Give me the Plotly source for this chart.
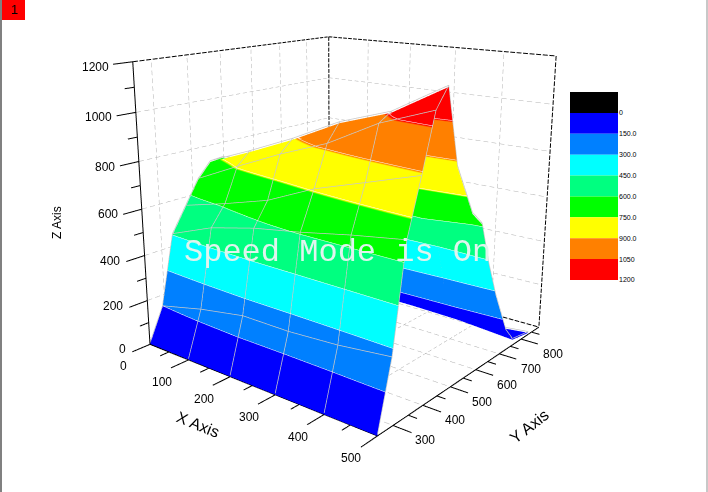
import plotly.graph_objects as go

# surface values
x_vals = [0, 100, 200, 300, 400, 500]
y_rows = [
    [251, 251, 251, 251, 251, 251],
    [293, 293, 293, 293, 293, 293],
    [333, 333, 333, 333, 333, 333],
    [376, 376, 376, 376, 376, 376],
    [417, 417, 417, 417, 417, 417],
    [457, 457, 457, 457, 457, 457],
    [497, 497, 497, 497, 497, 497],
    [560, 560, 560, 560, 560, 560],
    [600, 600, 600, 600, 600, 600],
    [635, 635, 635, 635, 635, 635],
    [670, 670, 670, 670, 670, 670],
    [725, 725, 725, 725, 725, 725],
    [730, 730, 730, 730, 730, 758],
    [735, 735, 735, 735, 735, 834],
]
z_rows = [
    [0, 0, 0, 0, 0, 0],
    [145, 192, 227, 227, 240, 265],
    [450, 524, 570, 602, 640, 672],
    [557, 608, 665, 753, 817, 882],
    [660, 751, 838, 914, 1021, 1096],
    [725, 804, 889, 986, 1054, 1172],
    [730, 750, 780, 810, 850, 874],
    [600, 610, 620, 640, 620, 670],
    [520, 530, 540, 560, 560, 610],
    [400, 420, 440, 460, 470, 430],
    [150, 170, 190, 220, 255, 281],
    [80, 85, 90, 90, 75, 87],
    [70, 75, 80, 80, 70, 25],
    [60, 65, 70, 70, 65, 7],
]

band_edges = [-150, 0, 150, 300, 450, 600, 750, 900, 1050]
band_colors = ["#000000", "#0000ff", "#0080ff", "#00ffff", "#00ff80", "#00ff00", "#ffff00", "#ff8000", "#ff0000"]
band_tick_vals = [0, 150, 300, 450, 600, 750, 900, 1050, 1200]
band_tick_text = ["0", "150.0", "300.0", "450.0", "600.0", "750.0", "900.0", "1050", "1200"]

x_major = [0, 100, 200, 300, 400, 500]
x_minor = [50, 150, 250, 350, 450]
y_major = [300, 400, 500, 600, 700, 800]
y_minor = [350, 450, 550, 650, 750, 850]
z_major = [0, 200, 400, 600, 800, 1000, 1200]
z_minor = [100, 300, 500, 700, 900, 1100]

X0, X1 = 0, 500
Y0, Y1 = 251, 887
Z0, Z1 = 0, 1200

# plotly's 3d view has a fixed 45 degree lens, so the page is taller than the window
# and slid up to get the flatter perspective of the original
PAGE_H = 771
PAGE_TOP = 183
VIEW_W = 679.5


def segments(pairs):
    xs, ys, zs = [], [], []
    for a, b in pairs:
        xs += [a[0], b[0], None]
        ys += [a[1], b[1], None]
        zs += [a[2], b[2], None]
    return xs, ys, zs


def line_trace(pairs, color, width=1):
    xs, ys, zs = segments(pairs)
    return go.Scatter3d(x=xs, y=ys, z=zs, mode="lines", hoverinfo="skip", showlegend=False,
                        line=dict(color=color, width=width))


# scatter3d stretches its dash pattern over the whole trace, so cut the dashes here
def dashed(a, b, n, on=0.6):
    out = []
    for i in range(n):
        t0, t1 = i / n, (i + on) / n
        out.append((tuple(a[k] + (b[k] - a[k]) * t0 for k in range(3)),
                    tuple(a[k] + (b[k] - a[k]) * t1 for k in range(3))))
    return out


band_scale = []
n_bands = 8
for i in range(n_bands):
    band_scale.append([i / n_bands, band_colors[i + 1]])
    band_scale.append([(i + 1) / n_bands, band_colors[i + 1]])

fig = go.Figure()
fig.add_trace(go.Surface(
    x=[x_vals] * len(y_rows), y=y_rows, z=z_rows, cmin=0, cmax=1200, colorscale=band_scale,
    showscale=False, hoverinfo="skip",
    lighting=dict(ambient=1, diffuse=0, specular=0, roughness=1, fresnel=0),
    contours=dict(z=dict(show=True, start=150, end=1200, size=150, color="white", width=1)),
))

# mesh lines on the surface
lift = 6
mesh = []
for r in range(1, len(y_rows)):
    for c in range(len(x_vals) - 1):
        mesh.append(((x_vals[c], y_rows[r][c], z_rows[r][c] + lift),
                     (x_vals[c + 1], y_rows[r][c + 1], z_rows[r][c + 1] + lift)))
for c in range(len(x_vals)):
    for r in range(len(y_rows) - 1):
        mesh.append(((x_vals[c], y_rows[r][c], z_rows[r][c] + lift),
                     (x_vals[c], y_rows[r + 1][c], z_rows[r + 1][c] + lift)))
fig.add_trace(line_trace(mesh, "#c8c8c8", 1.5))

# grey dashed grid on the back walls and floor
grid = []
for y in y_major:
    grid += dashed((X0, y, Z0), (X0, y, Z1), 38)
    grid += dashed((X0, y, Z0), (X1, y, Z0), 30)
for x in x_major[1:-1]:
    grid += dashed((x, Y1, Z0), (x, Y1, Z1), 38)
    grid += dashed((x, Y0, Z0), (x, Y1, Z0), 30)
for z in z_major[1:-1]:
    grid += dashed((X0, Y0, z), (X0, Y1, z), 28)
    grid += dashed((X0, Y1, z), (X1, Y1, z), 30)
fig.add_trace(line_trace(grid, "#b0b0b0"))

# black dashed outline at the back
back = []
back += dashed((X0, Y0, Z1), (X0, Y1, Z1), 36, 0.75)
back += dashed((X0, Y1, Z1), (X1, Y1, Z1), 40, 0.75)
back += dashed((X1, Y1, Z1), (X1, Y1, Z0), 46, 0.75)
back += dashed((X0, Y1, Z1), (X0, Y1, Z0), 46, 0.75)
back += dashed((X0, Y1, Z0), (X1, Y1, Z0), 40, 0.75)
fig.add_trace(line_trace(back, "black", 2))

# solid axes with ticks
axes = [((X0, Y0, Z0), (X1, Y0, Z0)), ((X1, Y0, Z0), (X1, Y1, Z0)), ((X0, Y0, Z0), (X0, Y0, Z1))]
for x in x_major:
    axes.append(((x, Y0, Z0), (x, Y0 - 50, Z0)))
for x in x_minor:
    axes.append(((x, Y0, Z0), (x, Y0 - 25, Z0)))
for y in y_major:
    axes.append(((X1, y, Z0), (X1 + 33, y, Z0)))
for y in y_minor:
    axes.append(((X1, y, Z0), (X1 + 16, y, Z0)))
for z in z_major:
    axes.append(((X0, Y0, z), (X0, Y0 - 50, z)))
for z in z_minor:
    axes.append(((X0, Y0, z), (X0, Y0 - 25, z)))
fig.add_trace(line_trace(axes, "black", 2))

# legend colour strip
fig.add_trace(go.Bar(x=[0] * len(band_edges), y=[150] * len(band_edges), base=band_edges, width=1,
                     marker=dict(color=band_colors, line=dict(width=0)), hoverinfo="skip",
                     showlegend=False, xaxis="x", yaxis="y"))

tick_font = dict(family="Liberation Sans", size=12, color="black")
scene_notes = []
for x in x_major:
    scene_notes.append(dict(x=x, y=Y0, z=Z0, text=str(x), showarrow=False, font=tick_font, xshift=-26, yshift=-22))
for y in y_major:
    scene_notes.append(dict(x=X1, y=y, z=Z0, text=str(y), showarrow=False, font=tick_font, xshift=32, yshift=-15))
for z in z_major:
    scene_notes.append(dict(x=X0, y=Y0, z=z, text=str(z), showarrow=False, font=tick_font,
                            xanchor="right", xshift=-22, yshift=-5))


def px(v):
    return v / 708


def py(v):
    return 1 - (v + PAGE_TOP) / PAGE_H


def note(x, y, text, **kw):
    return dict(x=px(x), y=py(y), xref="paper", yref="paper", xanchor="center", yanchor="middle",
                text=text, showarrow=False, **kw)


hide = dict(visible=False, showgrid=False, zeroline=False, showspikes=False, showbackground=False)
fig.update_layout(
    width=708, height=PAGE_H, autosize=False, margin=dict(l=0, r=0, t=0, b=0),
    paper_bgcolor="white", plot_bgcolor="white", showlegend=False, barmode="overlay", hovermode=False,
    scene=dict(
        domain=dict(x=[0, VIEW_W / 708], y=[0, 1]),
        xaxis=dict(range=[X0 - 50, X1 + 50], **hide),
        yaxis=dict(range=[Y0 - 60, Y1 + 60], **hide),
        zaxis=dict(range=[Z0 - 60, Z1 + 60], **hide),
        aspectmode="manual",
        aspectratio=dict(x=1.0046 * 1.2, y=1.0027 * (Y1 - Y0 + 120) / (Y1 - Y0), z=1.1),
        camera=dict(
            eye=dict(x=1.9263, y=-2.4452, z=0.8930),
            center=dict(x=-0.0052, y=-0.0436, z=0.0108),
            up=dict(x=0, y=0, z=1),
            projection=dict(type="perspective"),
        ),
        annotations=scene_notes,
    ),
    xaxis=dict(domain=[px(570), px(618)], range=[-0.5, 0.5], visible=False, fixedrange=True, automargin=False),
    yaxis=dict(domain=[py(280), py(92)], range=[1200, -150], side="right", anchor="x", tickmode="array",
               tickvals=band_tick_vals, ticktext=band_tick_text, ticks="", showgrid=False, zeroline=False,
               showline=False, tickfont=dict(family="Liberation Sans", size=7, color="black"), fixedrange=True,
               automargin=False),
    shapes=[
        dict(type="rect", xref="paper", yref="paper", x0=px(2), x1=px(25), y0=py(20), y1=py(0),
             fillcolor="#ff0000", line=dict(width=0)),
        dict(type="rect", xref="paper", yref="paper", x0=px(0), x1=px(2), y0=py(492), y1=py(0),
             fillcolor="#808080", line=dict(width=0)),
        dict(type="rect", xref="paper", yref="paper", x0=px(706), x1=px(708), y0=py(492), y1=py(0),
             fillcolor="#c8c8c8", line=dict(width=0)),
    ],
    annotations=[
        note(14, 9, "1", font=dict(family="Liberation Sans", size=13, color="black")),
        note(337, 252, "Speed Mode is On", font=dict(family="Liberation Mono", size=32, color="#e0f4ee")),
        note(198, 424, "X Axis", textangle=22, font=dict(family="Liberation Sans", size=16, color="black")),
        note(529, 426, "Y Axis", textangle=-38, font=dict(family="Liberation Sans", size=16, color="black")),
        note(57, 222, "Z Axis", textangle=-90, font=dict(family="Liberation Sans", size=12, color="black")),
    ],
)

slide_page = (
    "document.documentElement.style.overflow='hidden';"
    "document.body.style.overflow='hidden';"
    "document.body.style.margin='0';"
    "document.getElementById('{plot_id}').style.marginTop='-%dpx';" % PAGE_TOP
)
fig.write_html("out.html", post_script=slide_page)
